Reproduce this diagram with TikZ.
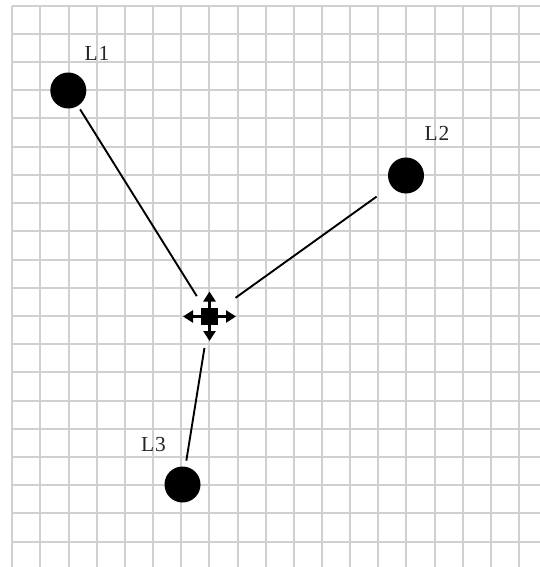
\documentclass[tikz,border=0pt]{standalone}
\usepackage{fontspec}
\setmainfont{Liberation Serif}
\usetikzlibrary{arrows.meta}
\definecolor{gridgray}{RGB}{208,208,208}
\tikzset{
  gridline/.style={draw=gridgray, line width=2bp},
  beacon/.style={circle, fill=black, minimum size=36bp, inner sep=0pt},
  lbl/.style={font=\fontsize{21.5}{21.5}\selectfont, text=black!85, inner sep=0pt},
  link/.style={draw=black, line width=1.9bp},
  mover/.style={-{Triangle[length=10bp,width=12bp]}, line width=3.2bp},
  target/.style={rectangle, fill=black, minimum size=17bp, inner sep=0pt}
}
\begin{document}
\begin{tikzpicture}[x=1bp, y=-1bp]
  \useasboundingbox (0,0) rectangle (540,567);
  \fill[white] (0,0) rectangle (540,567);
  \foreach \k in {0,...,18} \draw[gridline] ({12.3+28.15*\k},5.7) -- ({12.3+28.15*\k},567);
  \foreach \k in {0,...,19} \draw[gridline] (12.3,{5.7+28.2*\k}) -- (540,{5.7+28.2*\k});

  \node[beacon] (L1) at (68.3,90.5) {};
  \node[beacon] (L2) at (406,175.5) {};
  \node[beacon] (L3) at (182.5,484.5) {};
  \node[target] (X) at (209.5,316.5) {};

  \node[lbl] (t1) at (97,53.5) {L\kern1bp 1};
  \node[lbl] (t2) at (437,133.5) {L\kern1bp 2};
  \node[lbl] (t3) at (153.5,445) {L\kern1bp 3};

  \coordinate (Xl) at (183,316.5);
  \coordinate (Xr) at (236,316.5);
  \coordinate (Xu) at (209.5,291.5);
  \coordinate (Xd) at (209.5,341);
  \draw[mover] (X.center) -- (Xl);
  \draw[mover] (X.center) -- (Xr);
  \draw[mover] (X.center) -- (Xu);
  \draw[mover] (X.center) -- (Xd);

  \draw[link, shorten <=4bp, shorten >=24bp] (L1) -- (X.center);
  \draw[link, shorten <=18bp, shorten >=32bp] (L2) -- (X.center);
  \draw[link, shorten <=6bp, shorten >=32bp] (L3) -- (X.center);
\end{tikzpicture}
\end{document}
